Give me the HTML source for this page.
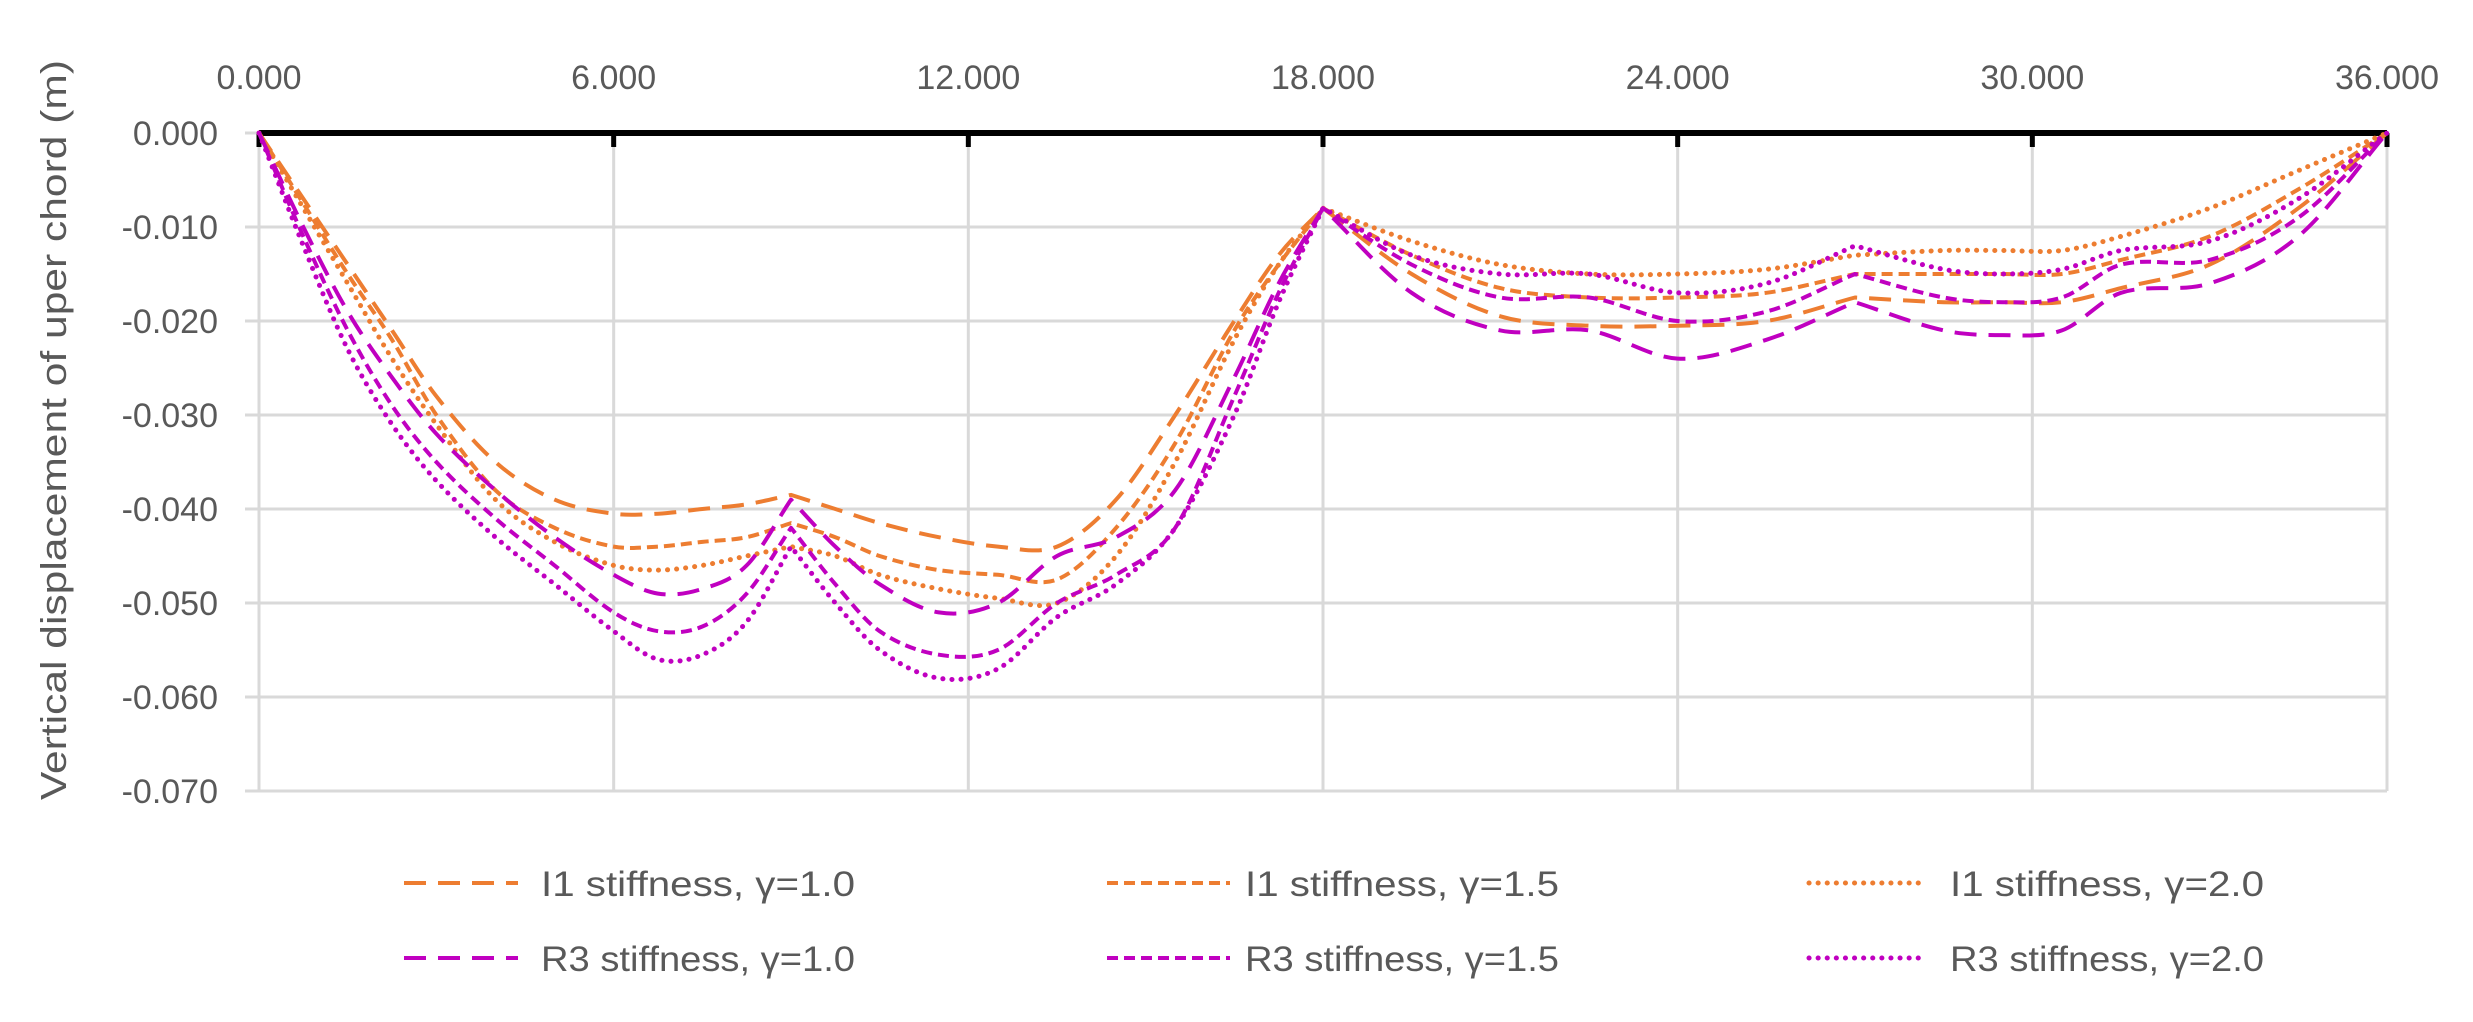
<!DOCTYPE html>
<html><head><meta charset="utf-8"><style>
html,body{margin:0;padding:0;background:#fff;}
svg{display:block;font-family:"Liberation Sans",sans-serif;}
</style></head><body>
<svg id="chart" width="2473" height="1022" viewBox="0 0 2473 1022">
<g id="grid"></g>
<g id="axes"></g>
<g id="series"></g>
<g id="legend"></g>
<text x="0" y="0" transform="translate(66,430) rotate(-90)" text-anchor="middle" font-size="36" fill="#595959" textLength="740" lengthAdjust="spacingAndGlyphs">Vertical displacement of uper chord (m)</text>
</svg>
<script>
const xValues = [0,0.75,1.5,2.25,3,4,5,6,6.75,7.5,8.25,9,9.75,10.5,11.5,12.5,13.5,14.5,15.5,16.5,17.25,18,19.5,21,22.5,24,25.5,27,28.5,29.5,30.5,31.5,33,34.5,36];
const cuspX = [9,18,27];
const i1g10 = [0,-0.007,-0.014,-0.021,-0.028,-0.035,-0.039,-0.0405,-0.0405,-0.040,-0.0395,-0.0385,-0.040,-0.0415,-0.043,-0.044,-0.044,-0.039,-0.030,-0.020,-0.013,-0.008,-0.015,-0.0195,-0.0205,-0.0205,-0.020,-0.0175,-0.018,-0.018,-0.018,-0.0165,-0.014,-0.008,0];
const i1g15 = [0,-0.0075,-0.015,-0.022,-0.030,-0.038,-0.042,-0.044,-0.044,-0.0435,-0.043,-0.0415,-0.043,-0.045,-0.0465,-0.047,-0.0475,-0.042,-0.033,-0.021,-0.014,-0.008,-0.013,-0.0165,-0.0175,-0.0175,-0.017,-0.015,-0.015,-0.015,-0.015,-0.0135,-0.011,-0.006,0];
const i1g20 = [0,-0.008,-0.016,-0.024,-0.031,-0.039,-0.0435,-0.046,-0.0465,-0.046,-0.045,-0.044,-0.045,-0.047,-0.0485,-0.0495,-0.050,-0.045,-0.035,-0.022,-0.014,-0.008,-0.0115,-0.014,-0.015,-0.015,-0.0145,-0.013,-0.0125,-0.0125,-0.0125,-0.011,-0.008,-0.004,0];
const r3g10 = [0,-0.010,-0.019,-0.026,-0.032,-0.038,-0.043,-0.047,-0.049,-0.0485,-0.046,-0.039,-0.044,-0.048,-0.051,-0.050,-0.045,-0.043,-0.038,-0.026,-0.016,-0.008,-0.017,-0.021,-0.021,-0.024,-0.022,-0.018,-0.021,-0.0215,-0.021,-0.017,-0.016,-0.011,0];
const r3g15 = [0,-0.011,-0.021,-0.029,-0.035,-0.041,-0.046,-0.051,-0.053,-0.0525,-0.049,-0.042,-0.048,-0.053,-0.0555,-0.055,-0.050,-0.047,-0.042,-0.028,-0.017,-0.008,-0.014,-0.0175,-0.0175,-0.020,-0.019,-0.015,-0.0175,-0.018,-0.0175,-0.014,-0.0135,-0.009,0];
const r3g20 = [0,-0.012,-0.023,-0.031,-0.037,-0.043,-0.048,-0.053,-0.056,-0.0555,-0.052,-0.044,-0.050,-0.055,-0.058,-0.057,-0.0515,-0.048,-0.042,-0.030,-0.018,-0.008,-0.013,-0.015,-0.015,-0.017,-0.016,-0.012,-0.0145,-0.015,-0.0145,-0.0125,-0.0115,-0.007,0];
const xTicks = [0,6,12,18,24,30,36];
const xTickLabels = ["0.000","6.000","12.000","18.000","24.000","30.000","36.000"];
const yTicks = [0,-0.01,-0.02,-0.03,-0.04,-0.05,-0.06,-0.07];
const yTickLabels = ["0.000","-0.010","-0.020","-0.030","-0.040","-0.050","-0.060","-0.070"];
const seriesNames = ["I1 stiffness, γ=1.0","I1 stiffness, γ=1.5","I1 stiffness, γ=2.0","R3 stiffness, γ=1.0","R3 stiffness, γ=1.5","R3 stiffness, γ=2.0"];

const NS="http://www.w3.org/2000/svg";
const L=259,R=2387,T=133,B=791;
const xs=v=>L+(v-0)/(36-0)*(R-L);
const ys=v=>T+(0-v)/(0.07)*(B-T);
function mk(tag,attrs,parent){const e=document.createElementNS(NS,tag);for(const k in attrs)e.setAttribute(k,attrs[k]);parent.appendChild(e);return e;}
const grid=document.getElementById('grid'),axes=document.getElementById('axes'),ser=document.getElementById('series'),leg=document.getElementById('legend');

yTicks.forEach((v,i)=>{
  const ln=mk('line',{x1:245,x2:R,y1:ys(v),y2:ys(v),stroke:'#d9d9d9','stroke-width':3},grid);
  
  
  const t=mk('text',{x:218,y:ys(v)+12,'text-anchor':'end','font-size':34,fill:'#595959'},axes);
  t.textContent=yTickLabels[i];
  
  
});
xTicks.forEach((v,i)=>{
  const ln=mk('line',{x1:xs(v),x2:xs(v),y1:T,y2:B,stroke:'#d9d9d9','stroke-width':3},grid);
  
  
  const tk=mk('line',{x1:xs(v),x2:xs(v),y1:T,y2:T+14,stroke:'#000','stroke-width':5},axes);
  
  
  const t=mk('text',{x:xs(v),y:89,'text-anchor':'middle','font-size':34,fill:'#595959'},axes);
  t.textContent=xTickLabels[i];
  
  
});
const ax=mk('line',{x1:L,x2:R,y1:T,y2:T,stroke:'#000','stroke-width':6},axes);



function smoothPath(xv,yv){
  const px=xv.map(xs),py=yv.map(ys),n=px.length;
  // piece boundaries at cusps
  const isBreak=i=>i===0||i===n-1||cuspX.indexOf(xv[i])>=0;
  let s='M'+px[0]+','+py[0];
  let start=0;
  for(let i=1;i<n;i++){
    if(!isBreak(i))continue;
    const a=start,b=i;
    const tan=j=>{
      const lo=Math.max(a,j-1),hi=Math.min(b,j+1);
      return (py[hi]-py[lo])/(px[hi]-px[lo]);
    };
    for(let j=a;j<b;j++){
      const h=(px[j+1]-px[j])/3,m0=tan(j),m1=tan(j+1);
      s+=' C'+(px[j]+h)+','+(py[j]+m0*h)+' '+(px[j+1]-h)+','+(py[j+1]-m1*h)+' '+px[j+1]+','+py[j+1];
    }
    start=i;
  }
  return s;
}
const ORANGE='#ED7D31',MAG='#C000C0';
const styles=[
 {c:ORANGE,dash:'22,12',cap:'butt'},{c:ORANGE,dash:'11,6',cap:'butt'},{c:ORANGE,dash:'0.1,9',cap:'round'},
 {c:MAG,dash:'22,12',cap:'butt'},{c:MAG,dash:'11,6',cap:'butt'},{c:MAG,dash:'0.1,9',cap:'round'}];
const allData=[i1g10,i1g15,i1g20,r3g10,r3g15,r3g20];
const ids=['i1-gamma-1-0','i1-gamma-1-5','i1-gamma-2-0','r3-gamma-1-0','r3-gamma-1-5','r3-gamma-2-0'];
allData.forEach((arr,k)=>{
  const p=mk('path',{d:smoothPath(xValues,arr),fill:'none',stroke:styles[k].c,'stroke-width':styles[k].cap==='round'?5:4,'stroke-dasharray':styles[k].dash,'stroke-linecap':styles[k].cap,'stroke-linejoin':'round'},ser);
  
  
});
const legX=[[404,518,541],[1107,1230,1245],[1809,1927,1950]];
const legY=[883,958];
seriesNames.forEach((nm,k)=>{
  const col=k%3,row=Math.floor(k/3),y=legY[row];
  const g=mk('g',{},leg);
  
  
  mk('line',{x1:legX[col][0],x2:legX[col][1],y1:y,y2:y,stroke:styles[k].c,'stroke-width':styles[k].cap==='round'?5:4,'stroke-dasharray':styles[k].dash,'stroke-linecap':styles[k].cap},g);
  const t=mk('text',{x:legX[col][2],y:y+13,'font-size':35,fill:'#595959',textLength:314,lengthAdjust:'spacingAndGlyphs'},g);
  t.textContent=nm;
});
</script>
</body></html>
